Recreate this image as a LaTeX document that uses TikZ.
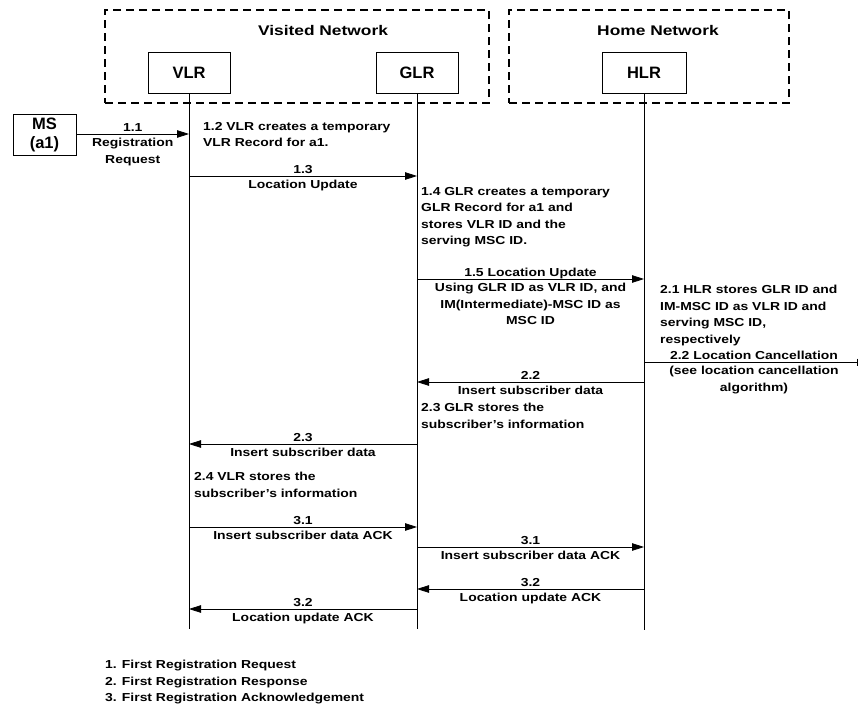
\documentclass[tikz,border=0pt]{standalone}
\usepackage{fontspec}
\setmainfont{Liberation Sans}
\newfontfamily\labfont{Liberation Sans}[FakeStretch=1.2]
\newfontfamily\titfont{Liberation Sans}[FakeStretch=1.24]
\usetikzlibrary{arrows.meta}
\begin{document}
\begin{tikzpicture}[x=1pt,y=-1pt,
  lab/.style={font={\labfont\bfseries\fontsize{11.6}{16.5}\selectfont}, inner sep=0pt},
  tit/.style={font={\titfont\bfseries\fontsize{14}{16}\selectfont}, inner sep=0pt},
  abovelab/.style={lab, anchor=base, yshift=3pt},
  belowlab/.style={lab, anchor=north, yshift=-4pt, align=center},
  note/.style={lab, anchor=north west, align=left},
  netbox/.style={draw, dash pattern=on 8pt off 5pt, line width=1.8pt, inner sep=0pt},
  ent/.style={draw, line width=0.8pt, minimum width=82pt, minimum height=41pt, inner sep=1pt,
    font={\bfseries\fontsize{16.5}{19}\selectfont}},
  life/.style={line width=0.8pt},
  msg/.style={line width=0.8pt, -{Triangle[length=12pt,width=7.5pt]}},
  endmsg/.style={line width=0.8pt, -{Bar[width=7pt]}}
]
\useasboundingbox (0,0) rectangle (860,707);
\fill[white] (0,0) rectangle (860,707);

% network boxes
\node[netbox, minimum width=384pt, minimum height=93pt] (vnet) at (297,56.5) {};
\node[netbox, minimum width=280pt, minimum height=93pt] (hnet) at (649,56.5) {};
\node[tit, anchor=base] (vtitle) at (323,35.5) {Visited Network};
\node[tit, anchor=base] (htitle) at (658,35.5) {Home Network};

% entities
\node[ent] (VLR) at (189,72.5) {VLR};
\node[ent] (GLR) at (417,72.5) {GLR};
\node[ent, minimum width=84pt] (HLR) at (644,72.5) {HLR};
\node[ent, minimum width=63pt, align=center] (MS) at (44.5,134.5) {MS\\(a1)};

% lifelines
\coordinate (VLRe) at (VLR.south |- 0,629);
\coordinate (GLRe) at (GLR.south |- 0,629);
\coordinate (HLRe) at (HLR.south |- 0,630);
\draw[life] (VLR.south) -- (VLRe);
\draw[life] (GLR.south) -- (GLRe);
\draw[life] (HLR.south) -- (HLRe);
\coordinate (cend) at (858,362);

% messages
\draw[msg] (MS.east |- 0,134) -- (VLR.south |- 0,134)
  node[abovelab, midway] {1.1} node[belowlab, midway] {Registration\\Request};
\draw[msg] (VLR.south |- 0,176) -- (GLR.south |- 0,176)
  node[abovelab, midway] {1.3} node[belowlab, midway] {Location Update};
\draw[msg] (GLR.south |- 0,279) -- (HLR.south |- 0,279)
  node[abovelab, midway] {1.5 Location Update}
  node[belowlab, midway] {Using GLR ID as VLR ID, and\\IM(Intermediate)-MSC ID as\\MSC ID};
\draw[endmsg] (HLR.south |- 0,362) -- (cend)
  node[abovelab, midway, xshift=3pt] {2.2 Location Cancellation}
  node[belowlab, midway, xshift=3pt] {(see location cancellation\\algorithm)};
\draw[msg] (HLR.south |- 0,382) -- (GLR.south |- 0,382)
  node[abovelab, midway] {2.2} node[belowlab, midway] {Insert subscriber data};
\draw[msg] (GLR.south |- 0,444) -- (VLR.south |- 0,444)
  node[abovelab, midway] {2.3} node[belowlab, midway] {Insert subscriber data};
\draw[msg] (VLR.south |- 0,527) -- (GLR.south |- 0,527)
  node[abovelab, midway] {3.1} node[belowlab, midway] {Insert subscriber data ACK};
\draw[msg] (GLR.south |- 0,547) -- (HLR.south |- 0,547)
  node[abovelab, midway] {3.1} node[belowlab, midway] {Insert subscriber data ACK};
\draw[msg] (HLR.south |- 0,589) -- (GLR.south |- 0,589)
  node[abovelab, midway] {3.2} node[belowlab, midway] {Location update ACK};
\draw[msg] (GLR.south |- 0,609) -- (VLR.south |- 0,609)
  node[abovelab, midway] {3.2} node[belowlab, midway] {Location update ACK};

% notes
\node[note] (n12) at (203,122) {1.2 VLR creates a temporary\\VLR Record for a1.};
\node[note] (n14) at (421,187) {1.4 GLR creates a temporary\\GLR Record for a1 and\\stores VLR ID and the\\serving MSC ID.};
\node[note] (n21) at (660,285) {2.1 HLR stores GLR ID and\\IM-MSC ID as VLR ID and\\serving MSC ID,\\respectively};
\node[note] (n23) at (421,403) {2.3 GLR stores the\\subscriber’s information};
\node[note] (n24) at (194,472) {2.4 VLR stores the\\subscriber’s information};
\node[note] (legend) at (105,660) {1. First Registration Request\\2. First Registration Response\\3. First Registration Acknowledgement};
\end{tikzpicture}
\end{document}
